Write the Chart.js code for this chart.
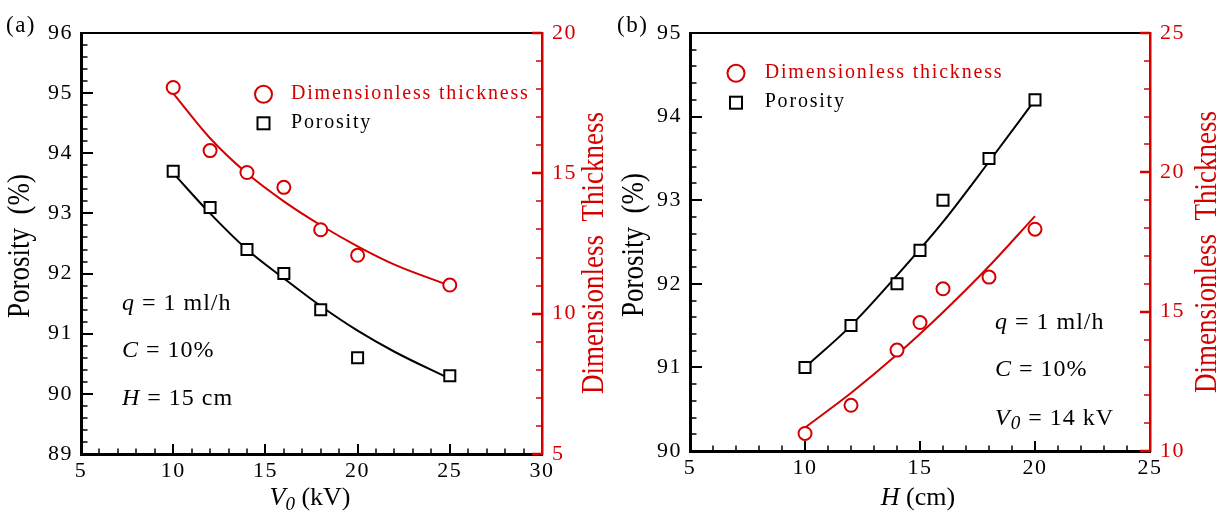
<!DOCTYPE html>
<html>
<head>
<meta charset="utf-8">
<script src="https://cdn.jsdelivr.net/npm/chart.js@4.4.1/dist/chart.umd.min.js"></script>
<style>
  html, body { margin: 0; padding: 0; background: #fff; }
  #wrap { position: relative; width: 1225px; height: 514px; overflow: hidden; background: #fff; }
  #wrap canvas { position: absolute; top: 0; }
</style>
</head>
<body>
<div id="wrap">
  <canvas id="panelA" width="612" height="514" style="left:0px"></canvas>
  <canvas id="panelB" width="613" height="514" style="left:612px"></canvas>
</div>
<script>
// (a) porosity and dimensionless thickness versus applied voltage V0 (kV)
const voltageKV = [10, 12, 14, 16, 18, 20, 25];
const porosityVsVoltage = [93.7, 93.1, 92.4, 92.0, 91.4, 90.6, 90.3];
const thicknessVsVoltage = [18.06, 15.81, 15.03, 14.5, 12.99, 12.08, 11.02];
// fitted trend lines for (a)
const voltageFitKV = [10, 12, 14, 16, 18, 20, 22, 25];
const porosityFitVoltage = [93.67, 93.0, 92.4, 91.92, 91.46, 91.05, 90.7, 90.25];
const thicknessFitVoltage = [17.85, 16.25, 15.0, 14.0, 13.15, 12.4, 11.75, 11.0];

// (b) porosity and dimensionless thickness versus tip-to-collector distance H (cm)
const distanceCM = [10, 12, 14, 15, 16, 18, 20];
const porosityVsDistance = [91.0, 91.5, 92.0, 92.4, 93.0, 93.5, 94.2];
const thicknessVsDistance = [10.63, 11.64, 13.62, 14.61, 15.82, 16.24, 17.96];
// fitted trend lines for (b)
const distanceFitCM = [10, 12, 14, 16, 18, 20];
const porosityFitDistance = [91.0, 91.5, 92.1, 92.74, 93.46, 94.2];
const thicknessFitDistance = [10.84, 12.08, 13.46, 14.98, 16.63, 18.43];

// axis ranges: [min, max, major step, minor step]
const voltageAxis = [5, 30, 5, 1];
const porosityAxisA = [89, 96, 1, 0.2];
const thicknessAxisA = [5, 20, 5, 1];
const distanceAxis = [5, 25, 5, 1];
const porosityAxisB = [90, 95, 1, 0.2];
const thicknessAxisB = [10, 25, 5, 1];

const RED = '#d40000';
const SERIF = "'Liberation Serif', 'Times New Roman', Times, serif";

function toPoints(xs, ys) { return xs.map((x, i) => ({ x: x, y: ys[i] })); }

function stepsOf(axis) {
  const [min, max, , minor] = axis;
  const n = Math.round((max - min) / minor);
  const out = [];
  for (let i = 0; i <= n; i++) out.push(+(min + i * minor).toFixed(6));
  return out;
}
function isMajor(v, axis) {
  const q = (v - axis[0]) / axis[2];
  return Math.abs(q - Math.round(q)) < 1e-6;
}

const it = t => ({ text: t, italic: true });
const rm = t => ({ text: t });
const sub = (t, s, dy) => ({ text: t, italic: true, scale: s, dy: dy });

// draws a sequence of styled text runs; vertical runs read bottom-to-top
function drawRuns(ctx, runs, x, y, o) {
  ctx.save();
  ctx.translate(x, y);
  ctx.scale(o.stretch || 1, 1);
  if (o.vertical) ctx.rotate(-Math.PI / 2);
  ctx.fillStyle = o.color || '#000';
  ctx.textAlign = 'left';
  ctx.textBaseline = 'alphabetic';
  if ('letterSpacing' in ctx) ctx.letterSpacing = (o.spacing || 0) + 'px';
  const fonts = runs.map(r => (r.italic ? 'italic ' : '') + (o.size * (r.scale || 1)).toFixed(1) + 'px ' + SERIF);
  const widths = runs.map((r, i) => { ctx.font = fonts[i]; return ctx.measureText(r.text).width; });
  const total = widths.reduce((s, w) => s + w, 0);
  let cx = o.align === 'center' ? -total / 2 : 0;
  runs.forEach((r, i) => {
    ctx.font = fonts[i];
    ctx.fillText(r.text, cx, r.dy || 0);
    cx += widths[i];
  });
  ctx.restore();
}

function line(ctx, x1, y1, x2, y2, w, c) {
  ctx.beginPath();
  ctx.lineWidth = w;
  ctx.strokeStyle = c;
  ctx.moveTo(x1, y1);
  ctx.lineTo(x2, y2);
  ctx.stroke();
}

// frame, inward tick marks, titles, notes and legend
const decorPlugin = {
  id: 'decor',
  beforeDraw(chart) {
    if ('letterSpacing' in chart.ctx) chart.ctx.letterSpacing = '1.5px';
  },
  afterDraw(chart, args, p) {
    const ctx = chart.ctx;
    if ('letterSpacing' in ctx) ctx.letterSpacing = '0px';
    const a = chart.chartArea;
    const sx = chart.scales.x, sy = chart.scales.y, sr = chart.scales.y1;
    ctx.save();
    ctx.lineCap = 'butt';
    // top frame line
    line(ctx, a.left, a.top, a.right, a.top, 2, '#000');
    // bottom axis ticks (pointing inward)
    stepsOf(p.xAxis).forEach(v => {
      if (v === p.xAxis[0] || v === p.xAxis[1]) return;
      const px = Math.round(sx.getPixelForValue(v));
      const M = isMajor(v, p.xAxis);
      line(ctx, px, a.bottom, px, a.bottom - (M ? 10 : 5.5), M ? 2 : 1.5, '#000');
    });
    // left axis ticks
    stepsOf(p.leftAxis).forEach(v => {
      const py = Math.round(sy.getPixelForValue(v));
      const M = isMajor(v, p.leftAxis);
      line(ctx, a.left, py, a.left + (M ? 12 : 6.5), py, M ? 2 : 1.5, '#000');
    });
    // right axis ticks
    stepsOf(p.rightAxis).forEach(v => {
      const py = Math.round(sr.getPixelForValue(v));
      const M = isMajor(v, p.rightAxis);
      line(ctx, a.right, py, a.right - (M ? 10 : 6), py, M ? 2.5 : 1.5, RED);
    });
    ctx.restore();

    // panel tag
    drawRuns(ctx, [rm(p.tag)], p.tagX, 32, { size: 23, spacing: 1.5 });

    // axis titles
    drawRuns(ctx, p.xTitle, p.xTitleX, 505, { size: 26, align: 'center' });
    drawRuns(ctx, [rm('Porosity  (%)')], p.leftTitleX + 7.4, p.leftTitleY,
      { size: 27, align: 'center', vertical: true, stretch: 1.15 });
    drawRuns(ctx, [rm('Dimensionless  Thickness')], p.rightTitleX + 10.6, p.rightTitleY,
      { size: 27, align: 'center', vertical: true, stretch: 1.15, color: RED });

    // processing conditions
    p.notes.forEach((runs, i) => {
      drawRuns(ctx, runs, p.notesX, p.notesY[i], { size: 24, spacing: 1 });
    });

    // legend
    const L = p.legend;
    ctx.save();
    ctx.lineWidth = 2;
    ctx.strokeStyle = RED;
    ctx.beginPath();
    ctx.arc(L.markX, L.y1, 8.5, 0, Math.PI * 2);
    ctx.stroke();
    ctx.strokeStyle = '#000';
    ctx.strokeRect(L.markX - 6, L.y2 - 6, 12, 12);
    ctx.restore();
    drawRuns(ctx, [rm('Dimensionless thickness')], L.textX, L.y1 + 4.7, { size: 20, spacing: 1.8, color: RED });
    drawRuns(ctx, [rm('Porosity')], L.textX, L.y2 + 4.4, { size: 20, spacing: 1.8 });
  }
};

function axisOpts(axis, position, color, fitCb, padding) {
  return {
    type: 'linear',
    position: position,
    min: axis[0],
    max: axis[1],
    ticks: {
      stepSize: axis[2],
      padding: padding,
      color: color,
      font: { family: SERIF, size: 22 },
      maxRotation: 0,
      autoSkip: false
    },
    grid: { display: false, drawTicks: false },
    border: { display: true, color: color, width: position === 'right' ? 2.5 : 3 },
    afterFit: fitCb
  };
}

function makePanel(p) {
  return new Chart(document.getElementById(p.canvas), {
    type: 'scatter',
    data: {
      datasets: [
        {
          label: 'Porosity',
          data: toPoints(p.x, p.porosity),
          yAxisID: 'y',
          pointStyle: 'rect',
          pointRadius: 7.8,
          borderColor: '#000',
          backgroundColor: '#fff',
          borderWidth: 2,
          showLine: false,
          clip: false
        },
        {
          label: 'Dimensionless thickness',
          data: toPoints(p.x, p.thickness),
          yAxisID: 'y1',
          pointStyle: 'circle',
          pointRadius: 6.5,
          borderColor: RED,
          backgroundColor: '#fff',
          borderWidth: 2,
          showLine: false,
          clip: false
        },
        {
          label: 'Porosity fit',
          data: toPoints(p.fitX, p.porosityFit),
          yAxisID: 'y',
          showLine: true,
          pointRadius: 0,
          borderColor: '#000',
          borderWidth: 2,
          cubicInterpolationMode: 'monotone',
          fill: false
        },
        {
          label: 'Dimensionless thickness fit',
          data: toPoints(p.fitX, p.thicknessFit),
          yAxisID: 'y1',
          showLine: true,
          pointRadius: 0,
          borderColor: RED,
          borderWidth: 2,
          cubicInterpolationMode: 'monotone',
          fill: false
        }
      ]
    },
    options: {
      responsive: false,
      animation: false,
      events: [],
      layout: { padding: { top: p.frame.top, left: 0, right: 0, bottom: 0 } },
      plugins: {
        legend: { display: false },
        tooltip: { enabled: false },
        decor: p
      },
      scales: {
        x: axisOpts(p.xAxis, 'bottom', '#000', s => { s.height = p.frame.bottom; }, 4),
        y: axisOpts(p.leftAxis, 'left', '#000', s => { s.width = p.frame.left; }, 8),
        y1: axisOpts(p.rightAxis, 'right', RED, s => { s.width = p.frame.right; }, 10)
      }
    },
    plugins: [decorPlugin]
  });
}

makePanel({
  canvas: 'panelA',
  x: voltageKV, porosity: porosityVsVoltage, thickness: thicknessVsVoltage,
  fitX: voltageFitKV, porosityFit: porosityFitVoltage, thicknessFit: thicknessFitVoltage,
  xAxis: voltageAxis, leftAxis: porosityAxisA, rightAxis: thicknessAxisA,
  frame: { left: 81, right: 70, top: 33, bottom: 60 },
  tag: '(a)', tagX: 6,
  xTitle: [it('V'), sub('0', 0.73, 5), rm(' (kV)')], xTitleX: 310,
  leftTitleX: 22, leftTitleY: 246,
  rightTitleX: 592, rightTitleY: 253,
  notes: [[it('q'), rm(' = 1 ml/h')], [it('C'), rm(' = 10%')], [it('H'), rm(' = 15 cm')]],
  notesX: 122, notesY: [310, 357, 405],
  legend: { markX: 263.5, y1: 94.3, y2: 123.3, textX: 291 }
});

makePanel({
  canvas: 'panelB',
  x: distanceCM, porosity: porosityVsDistance, thickness: thicknessVsDistance,
  fitX: distanceFitCM, porosityFit: porosityFitDistance, thicknessFit: thicknessFitDistance,
  xAxis: distanceAxis, leftAxis: porosityAxisB, rightAxis: thicknessAxisB,
  frame: { left: 78, right: 75, top: 33, bottom: 63 },
  tag: '(b)', tagX: 5,
  xTitle: [it('H'), rm(' (cm)')], xTitleX: 306,
  leftTitleX: 23.3, leftTitleY: 245,
  rightTitleX: 593, rightTitleY: 252,
  notes: [[it('q'), rm(' = 1 ml/h')], [it('C'), rm(' = 10%')], [it('V'), sub('0', 0.8, 4), rm(' = 14 kV')]],
  notesX: 383, notesY: [329.3, 376.3, 425.3],
  legend: { markX: 124, y1: 73.3, y2: 102.7, textX: 152.7 }
});
</script>
</body>
</html>
